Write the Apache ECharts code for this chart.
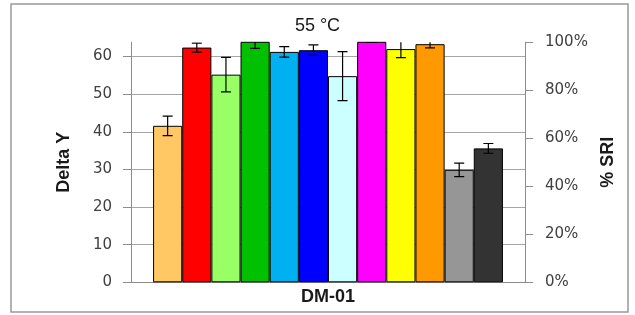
<!DOCTYPE html>
<html>
<head>
<meta charset="utf-8">
<script src="https://cdn.jsdelivr.net/npm/echarts@6/dist/echarts.min.js"></script>
<style>
html,body{margin:0;padding:0;background:#fff;}
#c{width:635px;height:315px;}
</style>
</head>
<body>
<div id="c"></div>
<script>
const categories = ["DM-01"];
const deltaY = [41.6, 62.4, 55.2, 64.0, 61.25, 61.7, 54.8, 64.0, 62.0, 63.3, 29.9, 35.6];
const errors = [2.6, 1.2, 4.6, 1.8, 1.4, 1.4, 6.5, 0.2, 2.3, 1.0, 1.8, 1.3];
const colors = ["#FFC864", "#FF0000", "#99FF66", "#00C000", "#00B0F0", "#0000FF",
                "#CCFFFF", "#FF00FF", "#FFFF00", "#FF9900", "#969696", "#333333"];
const leftTicks = [0, 10, 20, 30, 40, 50, 60];
const rightTicks = [0, 20, 40, 60, 80, 100];
const leftMax = 63.8;
const catGap = 0.112;

const chart = echarts.init(document.getElementById('c'), null, {renderer: 'canvas'});

const barSeries = deltaY.map((v, i) => ({
  type: 'bar',
  data: [v],
  barGap: '0%',
  barCategoryGap: (catGap * 100) + '%',
  itemStyle: {color: colors[i], borderColor: '#000', borderWidth: 1},
  clip: true,
  z: 2,
  silent: true
}));

const errData = deltaY.map((v, i) => [0, v - errors[i], v + errors[i], i]);

const option = {
  animation: false,
  backgroundColor: '#fff',
  title: {
    text: '55 °C',
    left: 'center',
    top: 12,
    textStyle: {fontFamily: 'Liberation Sans', fontSize: 18, fontWeight: 'normal', color: '#1a1a1a'}
  },
  grid: {left: 131, right: 110, top: 42.3, bottom: 32.7},
  xAxis: {
    type: 'category',
    data: categories,
    axisLine: {lineStyle: {color: '#8c8c8c', width: 1}},
    axisTick: {show: false},
    axisLabel: {fontFamily: 'Liberation Sans', fontWeight: 'bold', fontSize: 18, color: '#1a1a1a', margin: 6}
  },
  yAxis: [{
    type: 'value',
    min: 0,
    max: leftMax,
    interval: 10,
    name: 'Delta Y',
    nameLocation: 'middle',
    nameRotate: 90,
    nameGap: 58,
    nameTextStyle: {fontFamily: 'Liberation Sans', fontWeight: 'bold', fontSize: 18, color: '#1a1a1a'},
    axisLine: {show: true, lineStyle: {color: '#8c8c8c'}},
    axisTick: {show: true, length: 8, lineStyle: {color: '#8c8c8c'}, customValues: leftTicks},
    axisLabel: {fontFamily: 'DejaVu Sans', fontSize: 15, color: '#404040', margin: 19, customValues: leftTicks},
    splitLine: {show: true, lineStyle: {color: '#a6a6a6', width: 1}}
  }, {
    type: 'value',
    min: 0,
    max: 100,
    interval: 20,
    position: 'right',
    name: '% SRI',
    nameLocation: 'middle',
    nameRotate: 90,
    nameGap: 66,
    nameTextStyle: {fontFamily: 'Liberation Sans', fontWeight: 'bold', fontSize: 18, color: '#1a1a1a'},
    axisLine: {show: true, lineStyle: {color: '#8c8c8c'}},
    axisTick: {show: true, length: 8, lineStyle: {color: '#8c8c8c'}},
    axisLabel: {fontFamily: 'DejaVu Sans', fontSize: 15, color: '#404040', margin: 20, formatter: '{value}%'},
    splitLine: {show: false}
  }],
  graphic: [{
    type: 'rect',
    shape: {x: 11, y: 4, width: 617, height: 308},
    style: {fill: 'none', stroke: '#999', lineWidth: 1.5},
    silent: true
  }],
  series: barSeries.concat([{
    type: 'custom',
    clip: true,
    z: 5,
    silent: true,
    encode: {x: 0, y: [1, 2]},
    data: errData,
    renderItem: function (params, api) {
      const idx = api.value(3);
      const lo = api.coord([api.value(0), api.value(1)]);
      const hi = api.coord([api.value(0), api.value(2)]);
      const band = api.size([1, 0])[0];
      const groupW = band * (1 - catGap);
      const bw = groupW / deltaY.length;
      const x = lo[0] - groupW / 2 + (idx + 0.5) * bw;
      const cap = 5;
      const st = {stroke: '#000', lineWidth: 1.2};
      return {
        type: 'group',
        children: [
          {type: 'line', shape: {x1: x, y1: lo[1], x2: x, y2: hi[1]}, style: st},
          {type: 'line', shape: {x1: x - cap, y1: lo[1], x2: x + cap, y2: lo[1]}, style: st},
          {type: 'line', shape: {x1: x - cap, y1: hi[1], x2: x + cap, y2: hi[1]}, style: st}
        ]
      };
    }
  }])
};
chart.setOption(option);
</script>
</body>
</html>
